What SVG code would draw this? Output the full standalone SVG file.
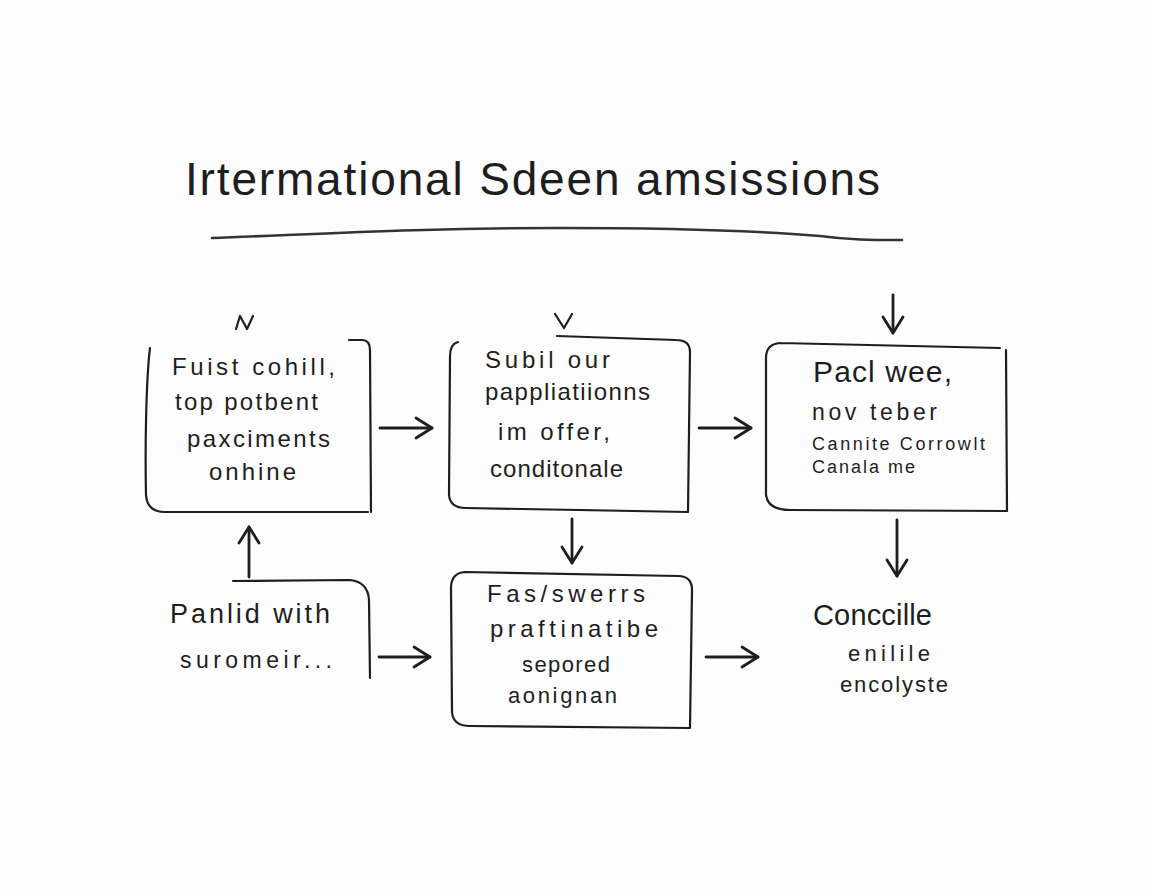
<svg xmlns="http://www.w3.org/2000/svg" width="1152" height="896" viewBox="0 0 1152 896">
<defs>
<marker id="ah" viewBox="0 0 24 24" refX="21" refY="12" markerWidth="24" markerHeight="24" markerUnits="userSpaceOnUse" orient="auto">
<path d="M5 2 L21 12 L5 22" fill="none" stroke="#1e1e1e" stroke-width="2.8" stroke-linecap="round" stroke-linejoin="round"/>
</marker>
</defs>
<style>
.bx{fill:none;stroke:#1e1e1e;stroke-width:2.2;stroke-linecap:round;stroke-linejoin:round}
.cn{fill:none;stroke:#1e1e1e;stroke-width:2.8;stroke-linecap:round}
.t{font-family:"Liberation Sans","DejaVu Sans",sans-serif;fill:#1e1e1e}
</style>
<rect width="1152" height="896" fill="#fdfdfd"/>
<g id="title">
<text class="t" x="185" y="195" font-size="46" textLength="695" lengthAdjust="spacing">Irtermational  Sdeen  amsissions</text>
<path d="M212 238 C320 234 420 228 560 228 C680 228 760 231 820 236 C850 240 870 240 902 240" fill="none" stroke="#333" stroke-width="2.6" stroke-linecap="round"/>
</g>
<g id="node1">
<path class="bx" d="M150 348 C146 380 145 450 146 495 Q147 512 165 512 L368 512 M349 340 L362 340 Q370 340 370 350 L371 512"/>
<path class="bx" d="M236 329 L240 316 L247 329 L253 316" stroke-width="3"/>
<text class="t" x="172" y="375" font-size="24" textLength="163" lengthAdjust="spacing">Fuist cohill,</text>
<text class="t" x="175" y="410" font-size="24" textLength="143" lengthAdjust="spacing">top potbent</text>
<text class="t" x="187" y="447" font-size="24" textLength="143" lengthAdjust="spacing">paxciments</text>
<text class="t" x="209" y="480" font-size="24" textLength="87" lengthAdjust="spacing">onhine</text>
</g>
<g id="node2">
<path class="bx" d="M458 342 Q450 344 450 356 L449 495 Q450 508 466 508 L688 512 L690 352 Q690 340 676 340 L557 336"/>
<path class="bx" d="M555 314 L564 328 L572 314" stroke-width="3"/>
<text class="t" x="485" y="368" font-size="24" textLength="125" lengthAdjust="spacing">Subil our</text>
<text class="t" x="485" y="400" font-size="24" textLength="165" lengthAdjust="spacing">pappliatiionns</text>
<text class="t" x="498" y="440" font-size="24" textLength="112" lengthAdjust="spacing">im offer,</text>
<text class="t" x="490" y="477" font-size="24" textLength="133" lengthAdjust="spacing">conditonale</text>
</g>
<g id="node3">
<path class="bx" d="M780 343 Q766 344 766 358 L766 495 Q768 510 790 510 L1007 511 L1006 350 M780 343 L1000 348"/>
<text class="t" x="813" y="382" font-size="30" textLength="139" lengthAdjust="spacing">Pacl wee,</text>
<text class="t" x="812" y="420" font-size="23" textLength="125" lengthAdjust="spacing">nov teber</text>
<text class="t" x="812" y="450" font-size="18" textLength="173" lengthAdjust="spacing">Cannite Corrowlt</text>
<text class="t" x="812" y="473" font-size="18" textLength="103" lengthAdjust="spacing">Canala me</text>
</g>
<g id="node4">
<path class="bx" d="M233 581 L350 580 Q368 582 369 600 L370 678"/>
<text class="t" x="170" y="623" font-size="27" textLength="160" lengthAdjust="spacing">Panlid with</text>
<text class="t" x="180" y="668" font-size="23" textLength="152" lengthAdjust="spacing">suromeir...</text>
</g>
<g id="node5">
<path class="bx" d="M465 572 Q451 573 451 588 L452 712 Q453 726 470 726 L690 728 L692 590 Q692 576 678 576 Z"/>
<text class="t" x="487" y="602" font-size="24" textLength="158" lengthAdjust="spacing">Fas/swerrs</text>
<text class="t" x="490" y="637" font-size="24" textLength="168" lengthAdjust="spacing">praftinatibe</text>
<text class="t" x="522" y="672" font-size="22" textLength="88" lengthAdjust="spacing">sepored</text>
<text class="t" x="508" y="703" font-size="22" textLength="109" lengthAdjust="spacing">aonignan</text>
</g>
<g id="node6">
<text class="t" x="813" y="625" font-size="29" textLength="119" lengthAdjust="spacing">Conccille</text>
<text class="t" x="848" y="661" font-size="22" textLength="82" lengthAdjust="spacing">enilile</text>
<text class="t" x="840" y="692" font-size="22" textLength="108" lengthAdjust="spacing">encolyste</text>
</g>
<g id="connectors">
<path class="cn" d="M380 428 L432 428" marker-end="url(#ah)"/>
<path class="cn" d="M699 428 L751 428" marker-end="url(#ah)"/>
<path class="cn" d="M893 295 L893 333" marker-end="url(#ah)"/>
<path class="cn" d="M572 519 L572 563" marker-end="url(#ah)"/>
<path class="cn" d="M897 520 L897 576" marker-end="url(#ah)"/>
<path class="cn" d="M249 577 L249 527" marker-end="url(#ah)"/>
<path class="cn" d="M379 657 L430 657" marker-end="url(#ah)"/>
<path class="cn" d="M706 657 L758 657" marker-end="url(#ah)"/>
</g>
</svg>
